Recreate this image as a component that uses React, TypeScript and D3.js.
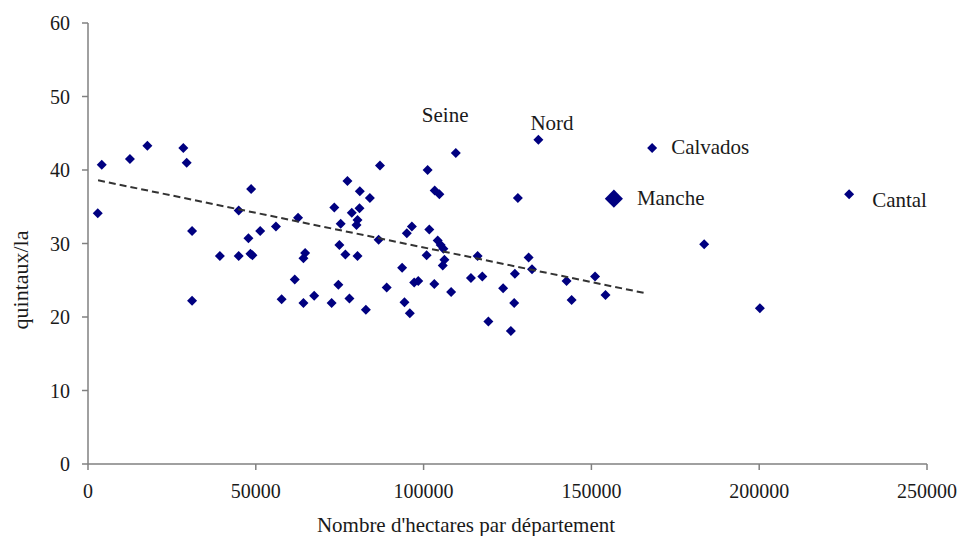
import React from "react";
import * as d3 from "d3";

const hectares = [
  2900, 4100, 12500, 17700, 28400, 29400, 31000, 31000, 39300, 44900,
  44900, 48600, 47800, 48400, 49000, 51300, 56000, 62600, 64700, 64200,
  61600, 57700, 64200, 67400, 72600, 74600, 74900, 73400, 75300, 77300,
  76700, 77900, 78600, 80300, 80000, 80300, 81000, 80900, 82800, 84000,
  87000, 86600, 89000, 93600, 94300, 95900, 95000, 96500, 97200, 98400,
  100900, 101700, 101200, 103300, 104700, 103200, 104200, 105100, 105900, 106200,
  105700, 108200, 114100, 116100, 117500, 119300, 123700, 126000, 127200, 127000,
  128100, 131300, 132300, 142600, 144100, 151100, 154200, 183600, 200200,
];
const rendements = [
  34.1, 40.7, 41.5, 43.3, 43.0, 41.0, 31.7, 22.2, 28.3, 28.3,
  34.5, 37.4, 30.7, 28.6, 28.4, 31.7, 32.3, 33.5, 28.7, 28.0,
  25.1, 22.4, 21.9, 22.9, 21.9, 24.4, 29.8, 34.9, 32.7, 38.5,
  28.5, 22.5, 34.2, 28.3, 32.5, 33.2, 37.1, 34.8, 21.0, 36.2,
  40.6, 30.5, 24.0, 26.7, 22.0, 20.5, 31.4, 32.3, 24.7, 24.9,
  28.4, 31.9, 40.0, 37.2, 36.7, 24.5, 30.4, 29.8, 29.3, 27.8,
  27.0, 23.4, 25.3, 28.3, 25.5, 19.4, 23.9, 18.1, 25.9, 21.9,
  36.2, 28.1, 26.5, 24.9, 22.3, 25.5, 23.0, 29.9, 21.2,
];

const labelNames = ["Seine", "Nord", "Calvados", "Manche", "Cantal"];
const labelHectares = [109600, 134200, 168100, 156700, 226800];
const labelRendements = [42.3, 44.1, 43.0, 36.1, 36.7];

const trendHectares = [3000, 166500];
const trendRendements = [38.6, 23.2];

const xTicks = [0, 50000, 100000, 150000, 200000, 250000];
const yTicks = [0, 10, 20, 30, 40, 50, 60];

const W = 960;
const H = 536;
const FONT = "'Liberation Serif', 'Times New Roman', serif";
const NAVY = "#000080";
const TEXT = "#1a1a1a";
const AXIS = "#808080";

// label layout offsets (px) relative to point, and marker sizes
const labelLayout: Record<string, { dx: number; dy: number; big?: boolean }> = {
  Seine: { dx: -34, dy: -38 },
  Nord: { dx: -8, dy: -17 },
  Calvados: { dx: 19, dy: -1 },
  Manche: { dx: 23, dy: -1, big: true },
  Cantal: { dx: 23, dy: 6 },
};

export default function App() {
  const x = d3.scaleLinear().domain([0, 250000]).range([88, 927]);
  const y = d3.scaleLinear().domain([0, 60]).range([464, 23]);

  const small = d3.symbol().type(d3.symbolSquare).size(50)() as string;
  const big = d3.symbol().type(d3.symbolSquare).size(165)() as string;

  const trendLine = d3
    .line<number>()
    .x((_, i) => x(trendHectares[i]))
    .y((_, i) => y(trendRendements[i]))(trendHectares) as string;

  return (
    <svg
      width={W}
      height={H}
      style={{ position: "absolute", left: 0, top: 0, background: "#fff" }}
      fontFamily={FONT}
    >
      <rect width={W} height={H} fill="#fff" />
      {/* axes */}
      <line x1={x(0)} x2={x(0)} y1={y(60)} y2={y(0)} stroke={AXIS} strokeWidth={1.5} />
      <line x1={x(0)} x2={x(250000)} y1={y(0)} y2={y(0)} stroke={AXIS} strokeWidth={1.5} />
      {yTicks.map((t) => (
        <g key={"y" + t}>
          <line x1={x(0) - 6} x2={x(0)} y1={y(t)} y2={y(t)} stroke={AXIS} strokeWidth={1.5} />
          <text
            x={70}
            y={y(t)}
            textAnchor="end"
            dominantBaseline="central"
            fontSize={20}
            fill={TEXT}
          >
            {t}
          </text>
        </g>
      ))}
      {xTicks.map((t) => (
        <g key={"x" + t}>
          <line x1={x(t)} x2={x(t)} y1={y(0)} y2={y(0) + 6} stroke={AXIS} strokeWidth={1.5} />
          <text x={x(t)} y={498} textAnchor="middle" fontSize={20} fill={TEXT}>
            {t}
          </text>
        </g>
      ))}
      <text x={466} y={532} textAnchor="middle" fontSize={21} fill={TEXT}>
        Nombre d'hectares par département
      </text>
      <text
        transform={`translate(20,280) rotate(-90)`}
        textAnchor="middle"
        dominantBaseline="central"
        fontSize={22}
        fill={TEXT}
      >
        quintaux/la
      </text>

      {/* points */}
      {hectares.map((h, i) => (
        <path
          key={"p" + i}
          d={small}
          transform={`translate(${x(h)},${y(rendements[i])}) rotate(45)`}
          fill={NAVY}
        />
      ))}

      {/* trend line */}
      <path d={trendLine} fill="none" stroke="#333" strokeWidth={2} strokeDasharray="7,4" />

      {/* labelled departments */}
      {labelNames.map((name, i) => {
        const px = x(labelHectares[i]);
        const py = y(labelRendements[i]);
        const lay = labelLayout[name];
        return (
          <g key={name}>
            <path
              d={lay.big ? big : small}
              transform={`translate(${px},${py}) rotate(45)`}
              fill={NAVY}
            />
            <text
              x={px + lay.dx}
              y={py + lay.dy}
              dominantBaseline="central"
              fontSize={21}
              fill={TEXT}
            >
              {name}
            </text>
          </g>
        );
      })}
    </svg>
  );
}
